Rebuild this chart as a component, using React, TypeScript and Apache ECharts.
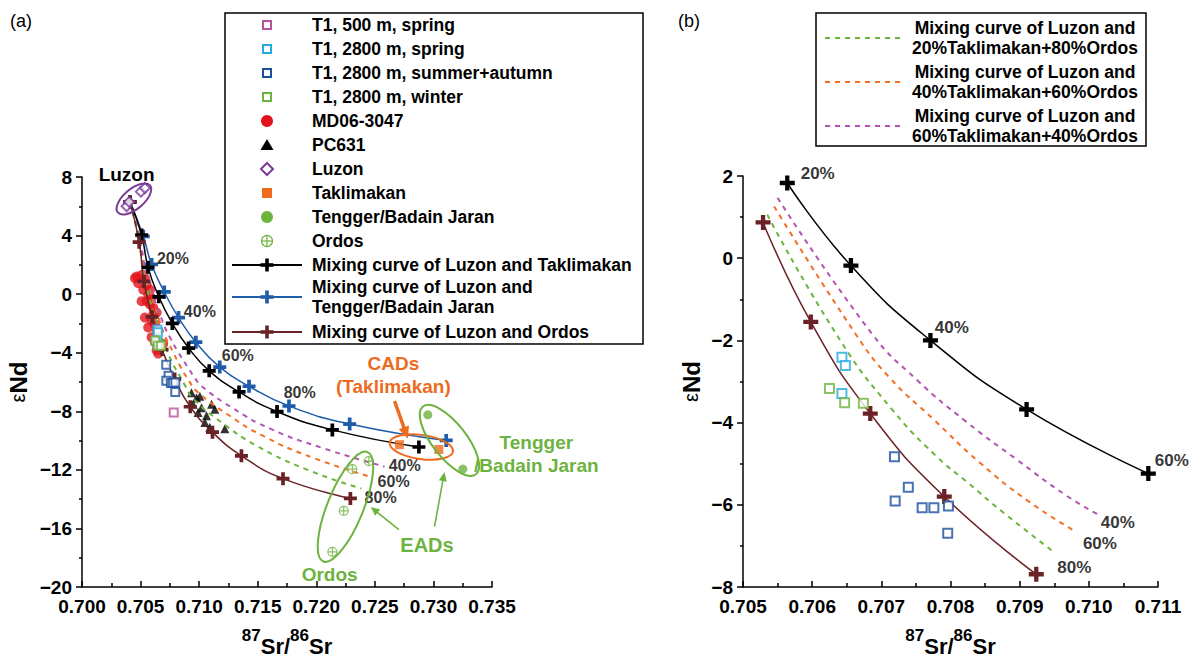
import React, { useEffect, useRef } from "react";
import * as echarts from "echarts";

const FONT = '"Liberation Sans", Arial, Helvetica, sans-serif';

// ---------------- data: [87Sr/86Sr, εNd] ----------------
const T1_500_SPRING = [[0.70783, -8.09]];
const T1_2800_SPRING = [[0.70643, -2.41], [0.70648, -2.61], [0.70643, -3.29]];
const T1_2800_SUMMER_AUTUMN = [
  [0.70719, -4.83], [0.70739, -5.57], [0.7072, -5.91], [0.70759, -6.07],
  [0.70776, -6.07], [0.70797, -6.03], [0.70796, -6.69],
];
const T1_2800_WINTER = [[0.70625, -3.17], [0.70647, -3.52], [0.70674, -3.53]];
const MD06_3047 = [
  [0.70466, 1.2], [0.70509, 1.31], [0.70537, 1.09], [0.7048, 0.75], [0.70552, 0.64],
  [0.70523, 0.3], [0.70565, -0.03], [0.70594, -0.26], [0.70552, -0.48], [0.7058, -0.7],
  [0.70608, -0.93], [0.70537, -1.6], [0.70594, -1.82], [0.70622, -2.05], [0.70565, -2.27],
  [0.70637, -2.49], [0.70594, -2.94], [0.70622, -3.28], [0.70665, -3.39], [0.70637, -3.83],
  [0.7065, -4.06], [0.70693, -3.39], [0.70608, -1.38], [0.70509, -0.48], [0.70452, 1.09],
  [0.7058, 0.3], [0.70637, -1.26],
];
const PC631 = [
  [0.70935, -6.74], [0.70978, -7.08], [0.70949, -7.52], [0.7102, -7.75], [0.70991, -8.09],
  [0.71063, -8.31], [0.71106, -7.52], [0.71134, -7.86], [0.71049, -8.76], [0.71091, -9.09],
  [0.71219, -9.2], [0.71006, -6.97],
];
const LUZON = [[0.70381, 6.0], [0.70403, 6.3], [0.70503, 7.0], [0.70537, 7.25]];
const TAKLIMAKAN = [[0.7271, -10.28], [0.73046, -10.61]];
const TENGGER_BADAIN = [[0.72952, -8.24], [0.73251, -11.95]];
const ORDOS = [[0.72449, -11.4], [0.72308, -11.95], [0.72234, -14.8], [0.72137, -17.6]];

// mixing curves, marks every 10 %
const MIX_LUZON_TAKLIMAKAN = [
  [0.7041, 6.3], [0.70509, 4.04], [0.70564, 1.83], [0.70656, -0.18], [0.70771, -2.0],
  [0.7091, -3.68], [0.71086, -5.24], [0.71341, -6.68], [0.71665, -8.02], [0.72137, -9.27],
  [0.72876, -10.44],
];
const MIX_LUZON_TENGGER = [
  [0.7041, 6.3], [0.70523, 3.95], [0.70594, 2.03], [0.70702, 0.15], [0.70824, -1.6],
  [0.70972, -3.28], [0.71176, -4.98], [0.71426, -6.29], [0.71767, -7.64], [0.72285, -8.87],
  [0.73109, -9.99],
];
const MIX_LUZON_ORDOS = [
  [0.7041, 6.3], [0.70488, 3.55], [0.70529, 0.87], [0.70598, -1.55], [0.70684, -3.78],
  [0.70791, -5.8], [0.70924, -7.69], [0.71114, -9.43], [0.71361, -11.04], [0.71716, -12.6],
  [0.72291, -13.95],
];
// dashed mixing curves (Luzon and Taklimakan/Ordos blends)
const MIX_20T_80O = [
  [0.7041, 6.3], [0.70485, 3.65], [0.70535, 1.06], [0.70641, -2.01], [0.70716, -3.69],
  [0.70779, -4.81], [0.70827, -5.49], [0.70875, -6.17], [0.70948, -7.13], [0.7119, -8.75],
  [0.7149, -10.35], [0.7191, -11.95], [0.72385, -13.28],
];
const MIX_40T_60O = [
  [0.7041, 6.3], [0.70488, 3.75], [0.70545, 1.26], [0.70663, -1.85], [0.70711, -2.89],
  [0.70776, -3.93], [0.70842, -4.97], [0.70914, -5.93], [0.70981, -6.65], [0.7124, -8.2],
  [0.7155, -9.7], [0.7198, -11.2], [0.72483, -12.52],
];
const MIX_60T_40O = [
  [0.7041, 6.3], [0.70492, 3.85], [0.7055, 1.47], [0.70687, -1.85], [0.70752, -2.97],
  [0.70822, -3.97], [0.70895, -4.89], [0.70967, -5.77], [0.71015, -6.25], [0.7128, -7.75],
  [0.7161, -9.2], [0.7205, -10.5], [0.72583, -11.78],
];

// percentage labels [x, y, text]
const PCT_LABELS_A = [
  [0.70776, 2.43, "20%"], [0.71006, -1.19, "40%"], [0.7133, -4.21, "60%"], [0.71858, -6.7, "80%"],
  [0.72755, -11.72, "40%"], [0.7266, -12.78, "60%"], [0.72549, -13.9, "80%"],
];
const PCT_LABELS_B = [
  [0.70608, 2.05, "20%"], [0.70802, -1.69, "40%"], [0.7112, -4.91, "60%"],
  [0.71042, -6.44, "40%"], [0.71016, -6.94, "60%"], [0.70979, -7.52, "80%"],
];

// ---------------- styles ----------------
const C = {
  pink: "#B5539B",
  lightBlue: "#27AAE1",
  darkBlue: "#1B4F9C",
  green: "#6DB33F",
  red: "#E3131B",
  purple: "#7A3C96",
  orange: "#EE6A1D",
  blueLine: "#1F5CAA",
  brown: "#6B2226",
  dashGreen: "#6DB33F",
  dashOrange: "#F36F21",
  dashMagenta: "#B354B4",
};
const CROSS = "path://M5,0H9V5H14V9H9V14H5V9H0V5H5Z";
const CIRCLE_PLUS = "path://M10,0A10,10,0,1,1,10,20A10,10,0,1,1,10,0ZM10,0V20M0,10H20";

// annotation layout (data-anchored)
const NOTES_A = [
  { at: [0.70381, 8.15], text: "Luzon", color: "#000", size: 19 },
  { at: [0.72658, -5.52], text: "CADs\n(Taklimakan)", color: C.orange, size: 19 },
  { at: [0.72945, -17.15], text: "EADs", color: C.green, size: 20 },
  { at: [0.72114, -19.18], text: "Ordos", color: C.green, size: 19 },
  { at: [0.73879, -10.9], text: "Tengger\n/Badain Jaran", color: C.green, size: 19 },
];
const RINGS_A = [
  { at: [0.70443, 6.5], rx: 21, ry: 10, angle: 40, color: C.purple },
  { at: [0.72897, -10.44], rx: 32, ry: 12, angle: -8, color: C.orange },
  { at: [0.73137, -9.99], rx: 43, ry: 17, angle: -52, color: C.green },
  { at: [0.72249, -14.52], rx: 59, ry: 18, angle: 68, color: C.green },
];
const ARROWS_A = [
  { from: [0.72668, -7.3], to: [0.72782, -9.87], color: C.orange, width: 3.5, head: 12 },
  { from: [0.72705, -16.09], to: [0.72464, -14.53], color: C.green, width: 1.6, head: 9 },
  { from: [0.73009, -15.87], to: [0.73094, -12.15], color: C.green, width: 1.6, head: 9 },
];

const LEGEND_A = [
  { label: "T1, 500 m, spring", kind: "openSquare", color: C.pink },
  { label: "T1, 2800 m, spring", kind: "openSquare", color: C.lightBlue },
  { label: "T1, 2800 m, summer+autumn", kind: "openSquare", color: C.darkBlue },
  { label: "T1, 2800 m, winter", kind: "openSquare", color: C.green },
  { label: "MD06-3047", kind: "dot", color: C.red },
  { label: "PC631", kind: "triangle", color: "#000" },
  { label: "Luzon", kind: "diamond", color: C.purple },
  { label: "Taklimakan", kind: "square", color: C.orange },
  { label: "Tengger/Badain Jaran", kind: "dot", color: C.green },
  { label: "Ordos", kind: "circlePlus", color: C.green },
  { label: "Mixing curve of Luzon and Taklimakan", kind: "lineCross", color: "#000" },
  { label: "Mixing curve of Luzon and\nTengger/Badain Jaran", kind: "lineCross", color: C.blueLine },
  { label: "Mixing curve of Luzon and Ordos", kind: "lineCross", color: C.brown },
];
const LEGEND_B = [
  { label: "Mixing curve of Luzon and\n20%Taklimakan+80%Ordos", color: C.dashGreen },
  { label: "Mixing curve of Luzon and\n40%Taklimakan+60%Ordos", color: C.dashOrange },
  { label: "Mixing curve of Luzon and\n60%Taklimakan+40%Ordos", color: C.dashMagenta },
];

const minus = (v: number) => (v < 0 ? "\u2212" + Math.abs(v) : String(v));

function xAxis(gi: number, min: number, max: number, interval: number, digits: number, nameGap: number) {
  return {
    gridIndex: gi, type: "value", min, max, interval,
    axisLine: { show: true, onZero: false, lineStyle: { color: "#000", width: 1.5 } },
    axisTick: { show: true, inside: true, length: 6, lineStyle: { color: "#000", width: 1.5 } },
    minorTick: { show: true, splitNumber: 2, length: 4, lineStyle: { color: "#000", width: 1.5 } },
    splitLine: { show: false },
    axisLabel: {
      color: "#000", fontFamily: FONT, fontWeight: "bold", fontSize: 19, margin: 10,
      formatter: (v: number) => v.toFixed(digits), showMinLabel: true, showMaxLabel: true,
    },
    name: "{a|87}{b|Sr/}{a|86}{b|Sr}",
    nameLocation: "middle", nameGap,
    nameTextStyle: {
      rich: {
        a: { fontFamily: FONT, fontWeight: "bold", fontSize: 17, verticalAlign: "top", lineHeight: 17, color: "#000" },
        b: { fontFamily: FONT, fontWeight: "bold", fontSize: 22, verticalAlign: "bottom", lineHeight: 30, color: "#000" },
      },
    },
  };
}
function yAxis(gi: number, min: number, max: number, interval: number, nameGap: number) {
  return {
    gridIndex: gi, type: "value", min, max, interval,
    axisLine: { show: true, onZero: false, lineStyle: { color: "#000", width: 1.5 } },
    axisTick: { show: true, inside: false, length: 6, lineStyle: { color: "#000", width: 1.5 } },
    minorTick: { show: true, splitNumber: 2, length: 3, lineStyle: { color: "#000", width: 1.5 } },
    splitLine: { show: false },
    axisLabel: { color: "#000", fontFamily: FONT, fontWeight: "bold", fontSize: 19, margin: 10, formatter: minus },
    name: "{e|\u03b5}{n|Nd}",
    nameLocation: "middle", nameRotate: 90, nameGap,
    nameTextStyle: {
      rich: {
        e: { fontFamily: FONT, fontSize: 20, color: "#000" },
        n: { fontFamily: FONT, fontWeight: "bold", fontSize: 24, color: "#000" },
      },
    },
  };
}

function pts(gi: number, name: string, data: number[][], symbol: string, size: number, itemStyle: any, z = 3) {
  return { type: "scatter", name, xAxisIndex: gi, yAxisIndex: gi, data, symbol, symbolSize: size, itemStyle, z, clip: true };
}
function mixLine(gi: number, name: string, data: number[][], color: string, z = 4, size = 13) {
  return {
    type: "line", name, xAxisIndex: gi, yAxisIndex: gi, data, smooth: 0.5,
    symbol: CROSS, symbolSize: size, showSymbol: true, showAllSymbol: true,
    itemStyle: { color }, lineStyle: { color, width: 1.5 }, z, clip: false,
  };
}
function dashLine(gi: number, name: string, data: number[][], color: string) {
  return {
    type: "line", name, xAxisIndex: gi, yAxisIndex: gi, data, smooth: 0.5,
    symbol: "none", lineStyle: { color, width: 2, type: [5, 5] }, z: 2, clip: false,
  };
}
function labels(gi: number, list: any[], size: number) {
  return {
    type: "scatter", xAxisIndex: gi, yAxisIndex: gi, symbolSize: 0, clip: false, silent: true, z: 10,
    data: list.map((d) => ({ value: [d[0], d[1]], label: { formatter: d[2] } })),
    label: { show: true, position: "inside", color: "#000", fontFamily: FONT, fontWeight: "bold", fontSize: size, lineHeight: 14 },
  };
}

function buildOption() {
  const open = (c: string) => ({ color: "#fff", borderColor: c, borderWidth: 2 });
  const series: any[] = [];
  // panel (a)
  series.push(pts(0, "MD06-3047", MD06_3047, "circle", 10, { color: C.red }, 1));
  series.push(pts(0, "PC631", PC631, "triangle", 9, { color: "#000" }, 1));
  series.push(dashLine(0, "20T", MIX_20T_80O, C.dashGreen));
  series.push(dashLine(0, "40T", MIX_40T_60O, C.dashOrange));
  series.push(dashLine(0, "60T", MIX_60T_40O, C.dashMagenta));
  series.push(mixLine(0, "Luzon-Tengger", MIX_LUZON_TENGGER, C.blueLine, 4));
  series.push(mixLine(0, "Luzon-Taklimakan", MIX_LUZON_TAKLIMAKAN, "#000", 4));
  series.push(mixLine(0, "Luzon-Ordos", MIX_LUZON_ORDOS, C.brown, 4));
  series.push(pts(0, "T1 500 spring", T1_500_SPRING, "rect", 8, open(C.pink), 5));
  series.push(pts(0, "T1 2800 summer", T1_2800_SUMMER_AUTUMN, "rect", 8, open(C.darkBlue), 5));
  series.push(pts(0, "T1 2800 spring", T1_2800_SPRING, "rect", 8, open(C.lightBlue), 5));
  series.push(pts(0, "T1 2800 winter", T1_2800_WINTER, "rect", 8, open(C.green), 5));
  series.push(pts(0, "Luzon", LUZON, "diamond", 10, open(C.purple), 5));
  series.push(pts(0, "Taklimakan", TAKLIMAKAN, "rect", 9, { color: C.orange }, 5));
  series.push(pts(0, "Tengger", TENGGER_BADAIN, "circle", 9, { color: C.green }, 5));
  series.push(pts(0, "Ordos", ORDOS, CIRCLE_PLUS, 9, { color: "rgba(255,255,255,0)", borderColor: C.green, borderWidth: 1.2 }, 5));
  series.push(labels(0, PCT_LABELS_A, 16));
  // panel (b)
  series.push(dashLine(1, "20T b", MIX_20T_80O.slice(2, 9), C.dashGreen));
  series.push(dashLine(1, "40T b", MIX_40T_60O.slice(2, 9), C.dashOrange));
  series.push(dashLine(1, "60T b", MIX_60T_40O.slice(2, 9), C.dashMagenta));
  series.push(mixLine(1, "Luzon-Taklimakan b", MIX_LUZON_TAKLIMAKAN.slice(2, 7), "#000", 4, 15));
  series.push(mixLine(1, "Luzon-Ordos b", MIX_LUZON_ORDOS.slice(2, 7), C.brown, 4, 15));
  series.push(pts(1, "T1 2800 summer b", T1_2800_SUMMER_AUTUMN, "rect", 9, open(C.darkBlue), 5));
  series.push(pts(1, "T1 2800 spring b", T1_2800_SPRING, "rect", 9, open(C.lightBlue), 5));
  series.push(pts(1, "T1 2800 winter b", T1_2800_WINTER, "rect", 9, open(C.green), 5));
  series.push(labels(1, PCT_LABELS_B, 17));

  return {
    animation: false,
    backgroundColor: "#fff",
    grid: [
      { left: 82, top: 177, width: 410, height: 417 },
      { left: 743, top: 176, width: 415, height: 417 },
    ],
    xAxis: [xAxis(0, 0.7, 0.735, 0.005, 3, 40), xAxis(1, 0.705, 0.711, 0.001, 3, 40)],
    yAxis: [yAxis(0, -20, 8, 4, 52), yAxis(1, -8, 2, 2, 40)],
    series,
  };
}

function symbolGraphic(kind: string, color: string, cx: number, cy: number) {
  const els: any[] = [];
  if (kind === "openSquare") {
    els.push({ type: "rect", shape: { x: cx - 4, y: cy - 4, width: 8, height: 8 }, style: { fill: "#fff", stroke: color, lineWidth: 2 } });
  } else if (kind === "square") {
    els.push({ type: "rect", shape: { x: cx - 5, y: cy - 5, width: 10, height: 10 }, style: { fill: color } });
  } else if (kind === "dot") {
    els.push({ type: "circle", shape: { cx, cy, r: 6 }, style: { fill: color } });
  } else if (kind === "triangle") {
    els.push({ type: "polygon", shape: { points: [[cx, cy - 6], [cx + 6.5, cy + 5], [cx - 6.5, cy + 5]] }, style: { fill: color } });
  } else if (kind === "diamond") {
    els.push({ type: "polygon", shape: { points: [[cx, cy - 6], [cx + 6, cy], [cx, cy + 6], [cx - 6, cy]] }, style: { fill: "#fff", stroke: color, lineWidth: 2 } });
  } else if (kind === "circlePlus") {
    els.push({ type: "circle", shape: { cx, cy, r: 5.5 }, style: { fill: "none", stroke: color, lineWidth: 1.2 } });
    els.push({ type: "line", shape: { x1: cx - 5.5, y1: cy, x2: cx + 5.5, y2: cy }, style: { stroke: color, lineWidth: 1.2 } });
    els.push({ type: "line", shape: { x1: cx, y1: cy - 5.5, x2: cx, y2: cy + 5.5 }, style: { stroke: color, lineWidth: 1.2 } });
  } else if (kind === "lineCross") {
    els.push({ type: "line", shape: { x1: cx - 35, y1: cy, x2: cx + 35, y2: cy }, style: { stroke: color, lineWidth: 2 } });
    els.push({ type: "rect", shape: { x: cx - 6.5, y: cy - 1.8, width: 13, height: 3.6 }, style: { fill: color } });
    els.push({ type: "rect", shape: { x: cx - 1.8, y: cy - 6.5, width: 3.6, height: 13 }, style: { fill: color } });
  }
  return els;
}

function buildGraphics(chart: any) {
  const els: any[] = [];
  const px = (p: number[]) => chart.convertToPixel({ gridIndex: 0 }, p) as number[];
  const font = (size: number, weight = "bold") => `${weight} ${size}px ${FONT}`;

  // panel letters
  els.push({ type: "text", style: { x: 10, y: 21, text: "(a)", font: font(18, "normal"), fill: "#000", verticalAlign: "middle" } });
  els.push({ type: "text", style: { x: 678, y: 21, text: "(b)", font: font(18, "normal"), fill: "#000", verticalAlign: "middle" } });

  // ellipses
  RINGS_A.forEach((r) => {
    const [x, y] = px(r.at);
    els.push({
      type: "ellipse", x, y, rotation: (r.angle * Math.PI) / 180, z: 20,
      shape: { cx: 0, cy: 0, rx: r.rx, ry: r.ry }, style: { fill: "none", stroke: r.color, lineWidth: 2 },
    });
  });
  // arrows
  ARROWS_A.forEach((a) => {
    const [x1, y1] = px(a.from);
    const [x2, y2] = px(a.to);
    const dx = x2 - x1, dy = y2 - y1;
    const len = Math.hypot(dx, dy);
    const ux = dx / len, uy = dy / len;
    const bx = x2 - ux * a.head, by = y2 - uy * a.head;
    const w = a.head * 0.45;
    els.push({ type: "line", z: 20, shape: { x1, y1, x2: bx + ux * 2, y2: by + uy * 2 }, style: { stroke: a.color, lineWidth: a.width } });
    els.push({ type: "polygon", z: 20, shape: { points: [[x2, y2], [bx - uy * w, by + ux * w], [bx + uy * w, by - ux * w]] }, style: { fill: a.color } });
  });
  // annotation texts
  NOTES_A.forEach((n) => {
    const [x, y] = px(n.at);
    els.push({
      type: "text", z: 20,
      style: { x, y, text: n.text, font: font(n.size), fill: n.color, align: "center", verticalAlign: "middle", lineHeight: 23 },
    });
  });

  // legend (a)
  els.push({ type: "rect", z: 50, shape: { x: 225, y: 13, width: 418, height: 331 }, style: { fill: "#fff", stroke: "#000", lineWidth: 1.5 } });
  const rowsA = [25, 49, 73, 97, 121, 145, 169, 193, 217, 241, 265, 297, 332];
  LEGEND_A.forEach((it, i) => {
    const cy = rowsA[i];
    symbolGraphic(it.kind, it.color, 267, cy).forEach((e) => els.push({ ...e, z: 51 }));
    els.push({
      type: "text", z: 51,
      style: { x: 312, y: cy, text: it.label, font: font(17.5), fill: "#000", verticalAlign: "middle", lineHeight: 20 },
    });
  });

  // legend (b)
  els.push({ type: "rect", z: 50, shape: { x: 816, y: 13, width: 330, height: 133 }, style: { fill: "#fff", stroke: "#000", lineWidth: 1.5 } });
  const rowsB = [38, 82, 126];
  LEGEND_B.forEach((it, i) => {
    const cy = rowsB[i];
    els.push({ type: "line", z: 51, shape: { x1: 825, y1: cy, x2: 903, y2: cy }, style: { stroke: it.color, lineWidth: 2, lineDash: [5, 5] } });
    els.push({
      type: "text", z: 51,
      style: { x: 1025, y: cy, text: it.label, font: font(17.5), fill: "#000", align: "center", verticalAlign: "middle", lineHeight: 20 },
    });
  });
  return els;
}

export default function App() {
  const ref = useRef<HTMLDivElement>(null);
  useEffect(() => {
    document.body.style.margin = "0";
    const chart = echarts.init(ref.current as HTMLDivElement, null, { renderer: "svg" });
    chart.setOption(buildOption() as any);
    chart.setOption({ graphic: { elements: buildGraphics(chart) } } as any);
    return () => chart.dispose();
  }, []);
  return <div ref={ref} style={{ width: 1192, height: 662, background: "#fff" }} />;
}
